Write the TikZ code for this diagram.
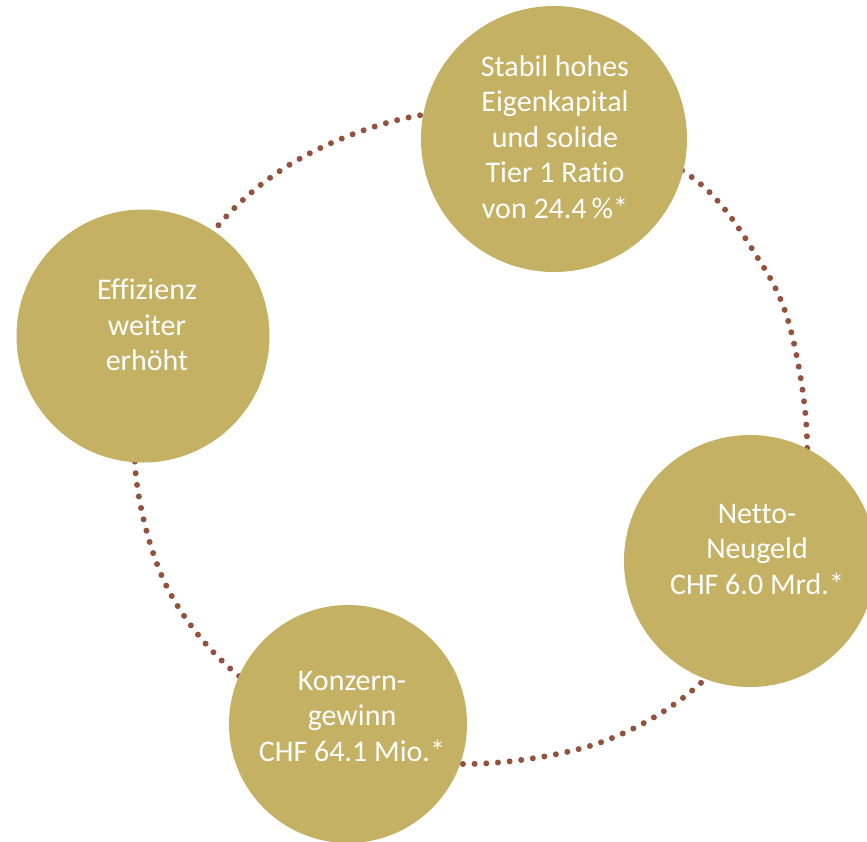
\documentclass[tikz,border=0pt]{standalone}
\usepackage{fontspec}
\setmainfont[Ligatures=NoCommon]{Carlito}
\definecolor{blobfill}{RGB}{196,177,99}
\definecolor{dotc}{RGB}{146,82,62}
\begin{document}
\begin{tikzpicture}[x=1pt,y=-1pt,
  blob/.style={circle, fill=blobfill, draw=none, inner sep=0pt},
  blobtext/.style={text=white, align=center, inner sep=0pt, font=\fontsize{30}{35.5}\selectfont},
  ring/.style={draw=dotc, line width=6pt, line cap=round, dash pattern=on 0pt off 11.7pt}]
\useasboundingbox (0,0) rectangle (867,841);
\clip (0,0) rectangle (867,841);
% ring coordinates
\coordinate (r1) at (416,116);
\coordinate (r2) at (555,112);
\coordinate (r3) at (693,178);
\coordinate (r4) at (761,263);
\coordinate (r5) at (791,331);
\coordinate (r6) at (807,440);
\coordinate (r7) at (795,560);
\coordinate (r8) at (703,681);
\coordinate (r9) at (599,743);
\coordinate (r10) at (467,764);
\coordinate (r11) at (350,744);
\coordinate (r12) at (233,671);
\coordinate (r13) at (165,583);
\coordinate (r14) at (135,465);
\coordinate (r15) at (150,340);
\coordinate (r16) at (217,227);
\coordinate (r17) at (301,158);
\draw[ring] plot[smooth cycle, tension=0.55] coordinates {(r1) (r2) (r3) (r4) (r5) (r6) (r7) (r8) (r9) (r10) (r11) (r12) (r13) (r14) (r15) (r16) (r17)};
% blobs
\node[blob, minimum size=266pt] (top) at (554,139) {};
\node[blob, minimum size=253pt] (left) at (143,336) {};
\node[blob, minimum size=252pt] (right) at (750,561) {};
\node[blob, minimum size=238pt] (bottom) at (348,724) {};
% texts
\node[blobtext] (toptext) at (555,137) {Stabil hohes\\Eigenkapital\\und solide\\Tier 1 Ratio\\von 24.4\,\%*};
\node[blobtext] (lefttext) at (147,325) {Effizienz\\weiter\\erhöht};
\node[blobtext] (righttext) at (757,549) {Netto-\\Neugeld\\CHF 6.0 Mrd.*};
\node[blobtext] (bottomtext) at (352,716) {Konzern-\\gewinn\\CHF 64.1 Mio.*};
\end{tikzpicture}
\end{document}
